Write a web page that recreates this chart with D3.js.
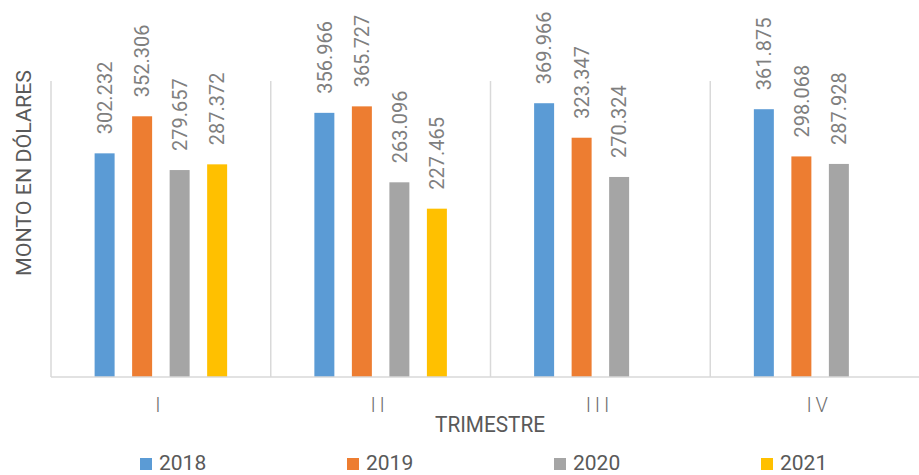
<!DOCTYPE html>
<html>
<head>
<meta charset="utf-8">
<script src="https://cdn.jsdelivr.net/npm/d3@7"></script>
<style>
  body { margin: 0; background: #fff; }
  text { font-family: Roboto, "Liberation Sans", sans-serif; }
</style>
</head>
<body>
<svg id="chart"></svg>
<script>
let width = 919;
let height = 475;

let quarters = ['I', 'II', 'III', 'IV'];
let years = ['2018', '2019', '2020', '2021'];
let colors = ['#5b9bd5', '#ed7d31', '#a5a5a5', '#ffc000'];
let v2018 = [302.232, 356.966, 369.966, 361.875];
let v2019 = [352.306, 365.727, 323.347, 298.068];
let v2020 = [279.657, 263.096, 270.324, 287.928];
let v2021 = [287.372, 227.465, null, null];
let series = [v2018, v2019, v2020, v2021];

let rows = [];
quarters.forEach((q, i) => {
  years.forEach((y, j) => {
    if (series[j][i] != null) rows.push({q: q, year: y, value: series[j][i], color: colors[j]});
  });
});

let svg = d3.select('#chart')
  .attr('width', width)
  .attr('height', height);

let x0 = d3.scaleBand()
  .domain(quarters)
  .range([51, 930]);

let x1 = d3.scaleBand()
  .domain(years)
  .range([-75, 75])
  .paddingInner(0.467)
  .paddingOuter(0.233);

let y = d3.scaleLinear()
  .domain([0, 400])
  .range([377, 81]);

// vertical category separators
svg.append('g')
  .selectAll('line')
  .data(quarters)
  .join('line')
    .attr('x1', d => x0(d))
    .attr('x2', d => x0(d))
    .attr('y1', y(400))
    .attr('y2', y(0))
    .attr('stroke', '#d9d9d9')
    .attr('stroke-width', 1.5);

// bars
svg.append('g')
  .selectAll('rect')
  .data(rows)
  .join('rect')
    .attr('x', d => x0(d.q) + x0.bandwidth() / 2 + x1(d.year))
    .attr('y', d => y(d.value))
    .attr('width', x1.bandwidth())
    .attr('height', d => y(0) - y(d.value))
    .attr('fill', d => d.color);

// data labels
svg.append('g')
  .selectAll('text')
  .data(rows)
  .join('text')
    .attr('transform', d => {
      let cx = x0(d.q) + x0.bandwidth() / 2 + x1(d.year) + x1.bandwidth() / 2;
      return `translate(${cx},${y(d.value) - 19}) rotate(-90)`;
    })
    .attr('dy', '0.36em')
    .attr('font-size', 20)
    .attr('fill', '#7f7f7f')
    .text(d => d.value.toFixed(3));

// category axis
svg.append('line')
  .attr('x1', 51)
  .attr('x2', 930)
  .attr('y1', y(0))
  .attr('y2', y(0))
  .attr('stroke', '#d9d9d9')
  .attr('stroke-width', 1.5);

svg.append('g')
  .selectAll('text')
  .data(quarters)
  .join('text')
    .attr('x', d => x0(d) + x0.bandwidth() / 2 - 1)
    .attr('y', 412)
    .attr('text-anchor', 'middle')
    .attr('font-size', 20)
    .attr('font-weight', 300)
    .attr('letter-spacing', 3.8)
    .attr('fill', '#6f6f6f')
    .text(d => d);

svg.append('text')
  .attr('x', 490)
  .attr('y', 432)
  .attr('text-anchor', 'middle')
  .attr('font-size', 22)
  .attr('textLength', 110)
  .attr('lengthAdjust', 'spacingAndGlyphs')
  .attr('fill', '#595959')
  .text('TRIMESTRE');

svg.append('text')
  .attr('transform', 'translate(31,173) rotate(-90)')
  .attr('text-anchor', 'middle')
  .attr('font-size', 21)
  .attr('textLength', 206)
  .attr('lengthAdjust', 'spacingAndGlyphs')
  .attr('fill', '#595959')
  .text('MONTO EN DÓLARES');

// legend
let legend = svg.append('g')
  .selectAll('g')
  .data(years)
  .join('g')
    .attr('transform', (d, i) => `translate(${140 + i * 207},470)`);

legend.append('rect')
  .attr('x', 0)
  .attr('y', -12)
  .attr('width', 12)
  .attr('height', 12)
  .attr('fill', (d, i) => colors[i]);

legend.append('text')
  .attr('x', 19)
  .attr('y', 0)
  .attr('font-size', 21)
  .attr('fill', '#595959')
  .text(d => d);
</script>
</body>
</html>
